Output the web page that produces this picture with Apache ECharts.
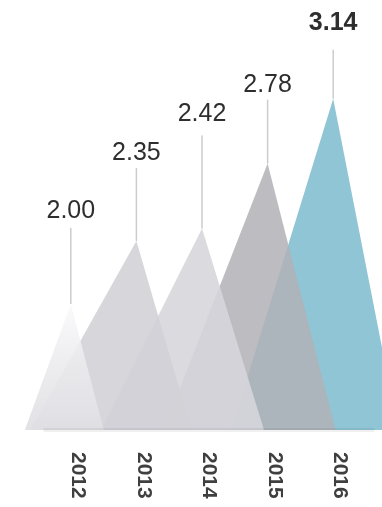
<!DOCTYPE html>
<html><head><meta charset="utf-8">
<script src="https://cdn.jsdelivr.net/npm/echarts@6/dist/echarts.min.js"></script>
<style>html,body{margin:0;padding:0;background:#fff}#c{width:382px;height:507px}</style>
</head><body><div id="c"></div>
<script>
// ---- data ----
const years = ['2012', '2013', '2014', '2015', '2016'];
const values = [2.00, 2.35, 2.42, 2.78, 3.14];
const valueLabels = ['2.00', '2.35', '2.42', '2.78', '3.14'];
const axisMin = 1.3;
const axisMax = 3.3;

// ---- styling ----
const leftHalf = [46, 106, 101, 104, 102];
const rightHalf = [33, 55, 62, 68, 65];
const leaderLen = [76, 73, 93, 64, 49];
const labelGap = [8, 6, 12, 5, 18];
const highlightIndex = 4;
const apexShift = -7;
const fills = [
  new echarts.graphic.LinearGradient(0, 0, 0, 1, [
    {offset: 0, color: 'rgba(250,250,251,0.9)'},
    {offset: 0.45, color: 'rgba(236,236,239,0.9)'},
    {offset: 1, color: 'rgba(224,224,228,0.95)'}
  ]),
  'rgba(210,210,215,0.9)',
  'rgba(214,214,219,0.9)',
  'rgba(178,178,184,0.87)',
  '#8fc5d5'
];
const fontFam = '"Liberation Sans", Arial, Helvetica, sans-serif';

const chart = echarts.init(document.getElementById('c'), null, {renderer: 'canvas'});
chart.setOption({
  animation: false,
  grid: {left: 45, right: 9, top: 70, bottom: 77},
  xAxis: {
    type: 'category',
    data: years,
    axisTick: {show: false},
    axisLine: {show: true, lineStyle: {color: 'rgba(0,0,0,0.06)', width: 4}},
    axisLabel: {rotate: -90, margin: 22, fontSize: 21, fontWeight: 'bold', color: '#3f3f3f', fontFamily: fontFam},
    z: 20
  },
  yAxis: {type: 'value', min: axisMin, max: axisMax, show: false},
  series: [{
    type: 'custom',
    clip: false,
    data: values.map((v, i) => [i, v]),
    renderItem: function (params, api) {
      const i = api.value(0);
      const v = api.value(1);
      const top = api.coord([i, v]);
      const base = api.coord([i, axisMin]);
      const x = top[0] + apexShift;
      const yt = top[1];
      const yb = base[1];
      const lineTop = yt - leaderLen[i];
      const labelY = lineTop - labelGap[i] - 9;
      return {
        type: 'group',
        children: [
          {
            type: 'polygon',
            z2: 10 - i,
            shape: {points: [[x - leftHalf[i], yb], [x, yt], [x + rightHalf[i], yb]]},
            style: {fill: fills[i]}
          },
          {
            type: 'line',
            z2: 30,
            shape: {x1: x, y1: yt, x2: x, y2: lineTop},
            style: {stroke: '#cccccc', lineWidth: 1.5}
          },
          {
            type: 'text',
            z2: 31,
            style: {
              text: valueLabels[i],
              x: x,
              y: labelY,
              align: 'center',
              verticalAlign: 'middle',
              fill: '#2e2e2e',
              font: (i === highlightIndex ? 'bold ' : '') + '25px ' + fontFam
            }
          }
        ]
      };
    }
  }]
});
</script>
</body></html>
